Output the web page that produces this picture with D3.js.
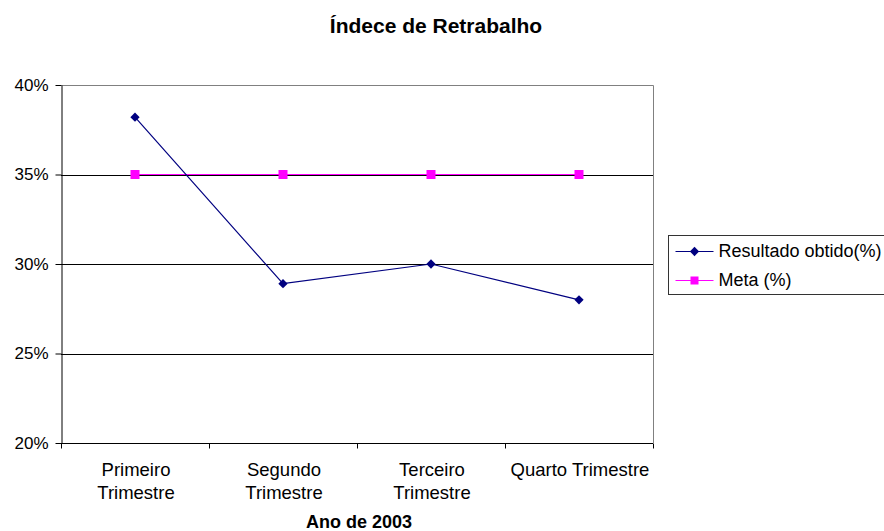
<!DOCTYPE html>
<html>
<head>
<meta charset="utf-8">
<script src="https://cdn.jsdelivr.net/npm/d3@7"></script>
<style>
body { margin: 0; background: #fff; }
text { font-family: "Liberation Sans", Arial, sans-serif; }
</style>
</head>
<body>
<div id="chart-area"></div>
<script>
var categories = [["Primeiro", "Trimestre"], ["Segundo", "Trimestre"], ["Terceiro", "Trimestre"], ["Quarto Trimestre"]];
var resultado = [38.2, 28.9, 30.0, 28.0];
var meta = [35, 35, 35, 35];
var yTicks = [20, 25, 30, 35, 40];

var width = 884, height = 531;
var margin = {left: 61, right: 231, top: 85, bottom: 88};
var chartWidth = width - margin.left - margin.right;
var chartHeight = height - margin.top - margin.bottom;

var svg = d3.select("#chart-area").append("svg").attr("width", width).attr("height", height);

svg.append("text").attr("x", 436).attr("y", 33).attr("text-anchor", "middle")
	.attr("font-size", "21px").attr("font-weight", "bold").text("Índece de Retrabalho");

var graph = svg.append("g").attr("transform", "translate(" + margin.left + "," + margin.top + ")");

var x = d3.scaleBand().domain(d3.range(categories.length)).range([0, chartWidth]);
var y = d3.scaleLinear().domain([20, 40]).range([chartHeight, 0]);

// gridlines
graph.selectAll(".grid").data(yTicks.slice(1, 4)).enter().append("line")
	.attr("x1", 0).attr("x2", chartWidth)
	.attr("y1", (d) => { return Math.round(y(d)) + 0.5; }).attr("y2", (d) => { return Math.round(y(d)) + 0.5; })
	.attr("stroke", "#000").attr("stroke-width", 1);

// plot border top/right (gray)
graph.append("path").attr("d", "M0.5,0.5H" + (chartWidth + 0.5) + "V" + chartHeight)
	.attr("fill", "none").attr("stroke", "#808080").attr("stroke-width", 1);

var yAxis = d3.axisLeft(y).tickValues(yTicks).tickFormat((d) => { return d + "%"; }).tickSize(6).tickSizeOuter(0);
var yAxisGroup = graph.append("g").attr("transform", "translate(0.5,0)").call(yAxis);
yAxisGroup.selectAll("text").attr("font-size", "17px").attr("fill", "#000").attr("x", -13).attr("font-family", "Liberation Sans, Arial, sans-serif");
yAxisGroup.selectAll("line, path").attr("stroke", "#000");

var xAxisGroup = graph.append("g").attr("transform", "translate(0," + (chartHeight + 0.5) + ")");
xAxisGroup.append("line").attr("x1", 0).attr("x2", chartWidth).attr("stroke", "#000");
xAxisGroup.selectAll(".tick").data(d3.range(categories.length + 1)).enter().append("line")
	.attr("x1", (d) => { return Math.round(d * x.step()) + 0.5; }).attr("x2", (d) => { return Math.round(d * x.step()) + 0.5; })
	.attr("y1", 0).attr("y2", 5).attr("stroke", "#000");
categories.forEach((c, i) => {
	var t = xAxisGroup.append("text").attr("text-anchor", "middle").attr("font-size", "18.5px")
		.attr("x", x(i) + x.bandwidth() / 2 + 1).attr("y", 32);
	c.forEach((line, j) => {
		t.append("tspan").attr("x", x(i) + x.bandwidth() / 2 + 1).attr("dy", j == 0 ? 0 : 23).text(line);
	});
});

svg.append("text").attr("x", 359).attr("y", 528).attr("text-anchor", "middle")
	.attr("font-size", "18px").attr("font-weight", "bold").text("Ano de 2003");

var line = d3.line().x((d, i) => { return x(i) + x.bandwidth() / 2; }).y((d) => { return y(d); });

graph.append("path").datum(meta).attr("d", line).attr("fill", "none").attr("stroke", "#FF00FF").attr("stroke-width", 1);
graph.append("path").datum(resultado).attr("d", line).attr("fill", "none").attr("stroke", "#000080").attr("stroke-width", 1.2);

graph.selectAll(".meta").data(meta).enter().append("rect")
	.attr("x", (d, i) => { return x(i) + x.bandwidth() / 2 - 4.5; }).attr("y", (d) => { return y(d) - 4.5; })
	.attr("width", 9).attr("height", 9).attr("fill", "#FF00FF");

var diamond = d3.symbol().type(d3.symbolDiamond2).size(55);
graph.selectAll(".res").data(resultado).enter().append("path")
	.attr("d", diamond)
	.attr("transform", (d, i) => { return "translate(" + (x(i) + x.bandwidth() / 2) + "," + y(d) + ")"; })
	.attr("fill", "#000080");

// legend
var legend = svg.append("g").attr("transform", "translate(668.5,235.5)");
legend.append("rect").attr("width", 230).attr("height", 59).attr("fill", "#fff").attr("stroke", "#333");
var legendItems = [{name: "Resultado obtido(%)", color: "#000080", shape: "diamond"}, {name: "Meta (%)", color: "#FF00FF", shape: "square"}];
legendItems.forEach((d, i) => {
	var row = legend.append("g").attr("transform", "translate(0," + (16 + i * 29) + ")");
	row.append("line").attr("x1", 7).attr("x2", 45).attr("stroke", d.color).attr("stroke-width", 1);
	if (d.shape == "diamond") {
		row.append("path").attr("d", diamond).attr("transform", "translate(26,0)").attr("fill", d.color);
	} else {
		row.append("rect").attr("x", 22).attr("y", -4).attr("width", 8).attr("height", 8).attr("fill", d.color);
	}
	row.append("text").attr("x", 50).attr("y", 5.5).attr("font-size", "18px").text(d.name);
});
</script>
</body>
</html>
